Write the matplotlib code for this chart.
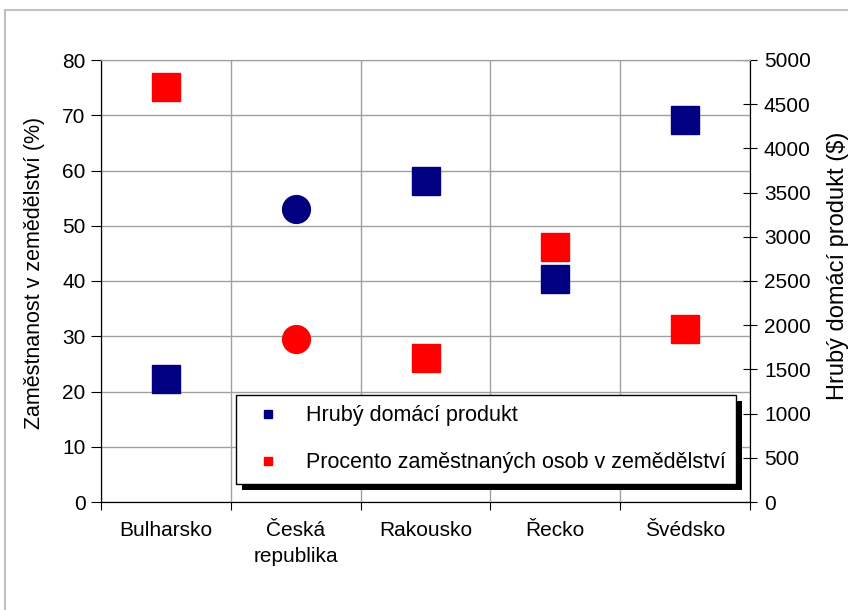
import numpy as np
import matplotlib.pyplot as plt
from matplotlib.patches import Rectangle
from matplotlib.lines import Line2D
from matplotlib.transforms import IdentityTransform

plt.rcParams['font.family'] = ['Liberation Sans', 'DejaVu Sans']

countries = ['Bulharsko', 'Česká\nrepublika', 'Rakousko', 'Řecko', 'Švédsko']
employment = [75.1, 29.5, 26.1, 46.2, 31.3]      # % in agriculture, left axis
gdp = [1390, 3310, 3630, 2525, 4320]            # GDP ($), right axis
markers = ['s', 'o', 's', 's', 's']

fig = plt.figure(figsize=(8.48, 6.10), dpi=100)
# outer frame of the chart object
fig.patches.append(Rectangle((5 / 848, -0.05), 1.1, 1 - 10 / 610 + 0.05,
                             transform=fig.transFigure, fill=False,
                             edgecolor='#c0c0c0', lw=1.5))

ax1 = fig.add_axes([101 / 848, 1 - 502 / 610, 649 / 848, 442 / 610])
ax2 = ax1.twinx()

x = np.arange(len(countries))
for xi, v, m in zip(x, employment, markers):
    ax1.plot(xi, v, m, color='#ff0000', ms=20, mec='#ff0000')
for xi, v, m in zip(x, gdp, markers):
    ax2.plot(xi, v, m, color='#000080', ms=20, mec='#000080')

ax1.set_xlim(-0.5, len(countries) - 0.5)
ax1.set_ylim(0, 80)
ax2.set_ylim(0, 5000)
ax1.set_yticks(np.arange(0, 81, 10))
ax2.set_yticks(np.arange(0, 5001, 500))

# category boundaries as major ticks, names on minor ticks
ax1.set_xticks(np.arange(-0.5, len(countries), 1))
ax1.set_xticklabels([])
ax1.set_xticks(x, minor=True)
ax1.set_xticklabels(countries, minor=True, fontsize=15, linespacing=1.45)
ax1.tick_params(axis='x', which='minor', length=0, pad=14)
ax1.tick_params(axis='x', which='major', length=6, direction='out', color='black')
ax1.tick_params(axis='y', length=7, direction='out', labelsize=15, pad=4)
ax2.tick_params(axis='y', length=10, direction='inout', labelsize=15, pad=5)

ax1.grid(True, which='major', color='#a0a0a0', lw=1)
ax1.set_axisbelow(True)

for ax in (ax1, ax2):
    ax.spines['top'].set_color('#a0a0a0')
    ax.spines['left'].set_color('black')
    ax.spines['bottom'].set_color('black')
    ax.spines['right'].set_color('black')

ax1.set_ylabel('Zaměstnanost v zemědělství (%)', fontsize=15.5)
ax1.yaxis.set_label_coords(-0.086, 0.518)
ax2.set_ylabel('Hrubý domácí produkt ($)', fontsize=17)
ax2.yaxis.set_label_coords(1.118, 0.534)

handles = [Line2D([], [], ls='none', marker='s', ms=6, color='#000080'),
           Line2D([], [], ls='none', marker='s', ms=6, color='#ff0000')]
leg = ax2.legend(handles, ['Hrubý domácí produkt', 'Procento zaměstnaných osob v zemědělství'],
                 loc='lower left', bbox_to_anchor=(0.208, 0.041), fontsize=15.5,
                 fancybox=False, edgecolor='black', framealpha=1,
                 handletextpad=0.75, labelspacing=1.2, borderpad=0.5,
                 borderaxespad=0)
leg.get_frame().set_linewidth(1)

# thick black drop shadow behind the legend
fig.canvas.draw()
bb = leg.get_window_extent()
shadow = Rectangle((bb.x0 + 6, bb.y0 - 6), bb.width, bb.height,
                   transform=IdentityTransform(), facecolor='black',
                   edgecolor='none', zorder=leg.get_zorder() - 0.1, clip_on=False)
ax2.add_artist(shadow)

fig.savefig('out.png', dpi=100)
